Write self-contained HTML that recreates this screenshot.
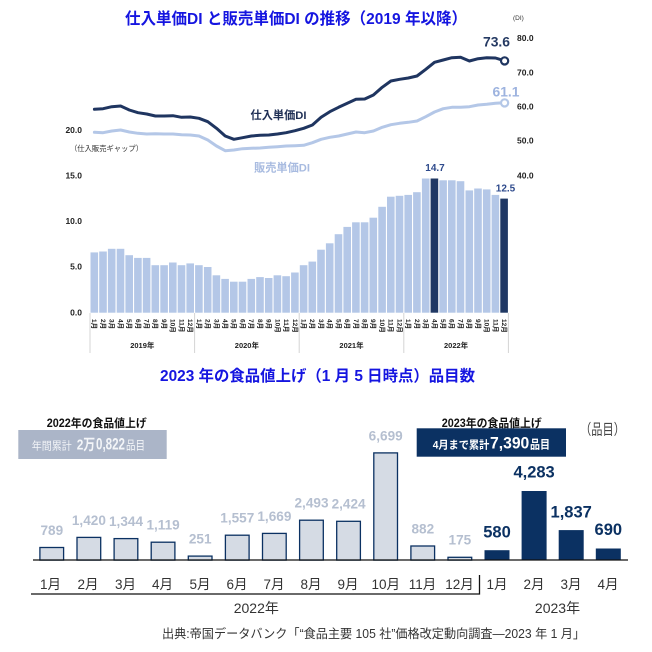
<!DOCTYPE html>
<html><head><meta charset="utf-8"><style>
html,body{margin:0;padding:0;background:#fff;}
svg{display:block;}
text{font-family:"Liberation Sans","Noto Sans CJK JP",sans-serif;}
</style></head><body>
<svg width="652" height="652" viewBox="0 0 652 652" xmlns="http://www.w3.org/2000/svg">
<!-- Title 1 -->
<text x="125" y="24" font-size="16" font-weight="bold" fill="#1515e0" textLength="342" lengthAdjust="spacingAndGlyphs">仕入単価DI と販売単価DI の推移（2019 年以降）</text>
<text x="513" y="20" font-size="6.5" fill="#333">(DI)</text>

<!-- right axis -->
<g font-size="8.5" font-weight="bold" fill="#222">
<text x="517" y="41">80.0</text>
<text x="517" y="75.7">70.0</text>
<text x="517" y="109.7">60.0</text>
<text x="517" y="143.7">50.0</text>
<text x="517" y="178.7">40.0</text>
</g>
<!-- left axis -->
<g font-size="8.5" font-weight="bold" fill="#222" text-anchor="end">
<text x="82" y="133">20.0</text>
<text x="82" y="178.7">15.0</text>
<text x="82" y="224">10.0</text>
<text x="82" y="269.7">5.0</text>
<text x="82" y="315.7">0.0</text>
</g>
<text x="70" y="151" font-size="7.5" fill="#333" textLength="73" lengthAdjust="spacingAndGlyphs">（仕入販売ギャップ）</text>

<!-- bars -->
<g fill="#b4c7e7">
<rect x="90.5" y="252.4" width="7.6" height="60.3"/>
<rect x="99.2" y="251.5" width="7.6" height="61.2"/>
<rect x="107.9" y="248.8" width="7.6" height="63.9"/>
<rect x="116.7" y="248.8" width="7.6" height="63.9"/>
<rect x="125.4" y="255.2" width="7.6" height="57.5"/>
<rect x="134.1" y="257.9" width="7.6" height="54.8"/>
<rect x="142.8" y="257.9" width="7.6" height="54.8"/>
<rect x="151.5" y="265.2" width="7.6" height="47.5"/>
<rect x="160.3" y="265.2" width="7.6" height="47.5"/>
<rect x="169.0" y="262.5" width="7.6" height="50.2"/>
<rect x="177.7" y="265.2" width="7.6" height="47.5"/>
<rect x="186.4" y="263.4" width="7.6" height="49.3"/>
<rect x="195.1" y="265.2" width="7.6" height="47.5"/>
<rect x="203.9" y="267.0" width="7.6" height="45.7"/>
<rect x="212.6" y="275.3" width="7.6" height="37.4"/>
<rect x="221.3" y="278.9" width="7.6" height="33.8"/>
<rect x="230.0" y="281.7" width="7.6" height="31.0"/>
<rect x="238.7" y="281.7" width="7.6" height="31.0"/>
<rect x="247.5" y="278.9" width="7.6" height="33.8"/>
<rect x="256.2" y="277.1" width="7.6" height="35.6"/>
<rect x="264.9" y="278.0" width="7.6" height="34.7"/>
<rect x="273.6" y="275.3" width="7.6" height="37.4"/>
<rect x="282.3" y="276.2" width="7.6" height="36.5"/>
<rect x="291.1" y="272.5" width="7.6" height="40.2"/>
<rect x="299.8" y="265.2" width="7.6" height="47.5"/>
<rect x="308.5" y="261.6" width="7.6" height="51.1"/>
<rect x="317.2" y="249.7" width="7.6" height="63.0"/>
<rect x="325.9" y="243.3" width="7.6" height="69.4"/>
<rect x="334.7" y="234.2" width="7.6" height="78.5"/>
<rect x="343.4" y="226.9" width="7.6" height="85.8"/>
<rect x="352.1" y="222.3" width="7.6" height="90.4"/>
<rect x="360.8" y="222.3" width="7.6" height="90.4"/>
<rect x="369.5" y="217.7" width="7.6" height="95.0"/>
<rect x="378.3" y="206.8" width="7.6" height="105.9"/>
<rect x="387.0" y="196.7" width="7.6" height="116.0"/>
<rect x="395.7" y="195.8" width="7.6" height="116.9"/>
<rect x="404.4" y="194.9" width="7.6" height="117.8"/>
<rect x="413.1" y="192.2" width="7.6" height="120.5"/>
<rect x="421.9" y="178.5" width="7.6" height="134.2"/>
<rect x="439.3" y="180.3" width="7.6" height="132.4"/>
<rect x="448.0" y="180.3" width="7.6" height="132.4"/>
<rect x="456.7" y="181.2" width="7.6" height="131.5"/>
<rect x="465.5" y="190.4" width="7.6" height="122.3"/>
<rect x="474.2" y="188.5" width="7.6" height="124.2"/>
<rect x="482.9" y="189.4" width="7.6" height="123.3"/>
<rect x="491.6" y="194.9" width="7.6" height="117.8"/>
</g>
<g fill="#203864">
<rect x="430.6" y="178.5" width="7.6" height="134.2"/>
<rect x="500.3" y="198.6" width="7.6" height="114.1"/>
</g>
<g font-size="10" font-weight="bold" fill="#2e4a8c" text-anchor="middle">
<text x="435" y="171">14.7</text>
<text x="505.5" y="191.5">12.5</text>
</g>

<!-- x axis top chart -->
<g stroke="#d4d4d4" stroke-width="1">
<line x1="90" y1="313" x2="90" y2="353"/>
<line x1="194.6" y1="313" x2="194.6" y2="353"/>
<line x1="299.2" y1="313" x2="299.2" y2="353"/>
<line x1="403.8" y1="313" x2="403.8" y2="353"/>
<line x1="508.4" y1="313" x2="508.4" y2="353"/>
</g>
<g font-size="6.5" font-weight="bold" fill="#222">
<text transform="translate(92.2,319) rotate(90)">1月</text>
<text transform="translate(100.9,319) rotate(90)">2月</text>
<text transform="translate(109.6,319) rotate(90)">3月</text>
<text transform="translate(118.4,319) rotate(90)">4月</text>
<text transform="translate(127.1,319) rotate(90)">5月</text>
<text transform="translate(135.8,319) rotate(90)">6月</text>
<text transform="translate(144.5,319) rotate(90)">7月</text>
<text transform="translate(153.2,319) rotate(90)">8月</text>
<text transform="translate(162.0,319) rotate(90)">9月</text>
<text transform="translate(170.7,319) rotate(90)">10月</text>
<text transform="translate(179.4,319) rotate(90)">11月</text>
<text transform="translate(188.1,319) rotate(90)">12月</text>
<text transform="translate(196.8,319) rotate(90)">1月</text>
<text transform="translate(205.6,319) rotate(90)">2月</text>
<text transform="translate(214.3,319) rotate(90)">3月</text>
<text transform="translate(223.0,319) rotate(90)">4月</text>
<text transform="translate(231.7,319) rotate(90)">5月</text>
<text transform="translate(240.4,319) rotate(90)">6月</text>
<text transform="translate(249.2,319) rotate(90)">7月</text>
<text transform="translate(257.9,319) rotate(90)">8月</text>
<text transform="translate(266.6,319) rotate(90)">9月</text>
<text transform="translate(275.3,319) rotate(90)">10月</text>
<text transform="translate(284.0,319) rotate(90)">11月</text>
<text transform="translate(292.8,319) rotate(90)">12月</text>
<text transform="translate(301.5,319) rotate(90)">1月</text>
<text transform="translate(310.2,319) rotate(90)">2月</text>
<text transform="translate(318.9,319) rotate(90)">3月</text>
<text transform="translate(327.6,319) rotate(90)">4月</text>
<text transform="translate(336.4,319) rotate(90)">5月</text>
<text transform="translate(345.1,319) rotate(90)">6月</text>
<text transform="translate(353.8,319) rotate(90)">7月</text>
<text transform="translate(362.5,319) rotate(90)">8月</text>
<text transform="translate(371.2,319) rotate(90)">9月</text>
<text transform="translate(380.0,319) rotate(90)">10月</text>
<text transform="translate(388.7,319) rotate(90)">11月</text>
<text transform="translate(397.4,319) rotate(90)">12月</text>
<text transform="translate(406.1,319) rotate(90)">1月</text>
<text transform="translate(414.8,319) rotate(90)">2月</text>
<text transform="translate(423.6,319) rotate(90)">3月</text>
<text transform="translate(432.3,319) rotate(90)">4月</text>
<text transform="translate(441.0,319) rotate(90)">5月</text>
<text transform="translate(449.7,319) rotate(90)">6月</text>
<text transform="translate(458.4,319) rotate(90)">7月</text>
<text transform="translate(467.2,319) rotate(90)">8月</text>
<text transform="translate(475.9,319) rotate(90)">9月</text>
<text transform="translate(484.6,319) rotate(90)">10月</text>
<text transform="translate(493.3,319) rotate(90)">11月</text>
<text transform="translate(502.0,319) rotate(90)">12月</text>
</g>
<g font-size="7.5" font-weight="bold" fill="#222" text-anchor="middle">
<text x="142.3" y="348">2019年</text>
<text x="246.9" y="348">2020年</text>
<text x="351.5" y="348">2021年</text>
<text x="456.1" y="348">2022年</text>
</g>

<!-- lines -->
<polyline fill="none" stroke="#b4c7e7" stroke-width="3" stroke-linejoin="round" stroke-linecap="round" points="94.4,132.3 103.1,132.7 111.8,131.0 120.6,130.0 129.3,132.0 138.0,133.3 146.7,134.0 155.4,133.7 164.2,134.0 172.9,134.0 181.6,134.7 190.3,135.0 199.0,136.0 207.8,140.0 216.5,146.0 225.2,150.7 233.9,150.0 242.6,148.7 251.4,148.3 260.1,148.0 268.8,147.3 277.5,146.7 286.2,146.0 295.0,145.7 303.7,145.3 312.4,142.7 321.1,139.3 329.8,137.3 338.6,136.0 347.3,134.0 356.0,132.0 364.7,132.7 373.4,131.0 382.2,127.3 390.9,124.7 399.6,123.3 408.3,122.3 417.0,121.0 425.8,116.7 434.5,112.0 443.2,108.7 451.9,107.3 460.6,107.3 469.4,106.7 478.1,105.0 486.8,104.3 495.5,103.3 504.2,102.7"/>
<polyline fill="none" stroke="#1f3560" stroke-width="3" stroke-linejoin="round" stroke-linecap="round" points="94.4,109.3 103.1,108.7 111.8,106.7 120.6,106.0 129.3,110.0 138.0,112.7 146.7,114.0 155.4,116.0 164.2,116.0 172.9,115.7 181.6,117.3 190.3,117.0 199.0,118.3 207.8,121.7 216.5,128.3 225.2,136.0 233.9,139.3 242.6,137.7 251.4,136.0 260.1,135.3 268.8,135.0 277.5,134.0 286.2,132.7 295.0,130.7 303.7,128.3 312.4,125.0 321.1,117.3 329.8,111.7 338.6,107.3 347.3,103.3 356.0,99.3 364.7,99.0 373.4,95.0 382.2,87.3 390.9,81.0 399.6,79.3 408.3,78.0 417.0,76.0 425.8,69.3 434.5,62.3 443.2,60.0 451.9,57.7 460.6,57.3 469.4,61.0 478.1,58.7 486.8,57.7 495.5,58.0 504.2,60.7"/>
<circle cx="504.6" cy="102.9" r="3.6" fill="#fff" stroke="#b4c7e7" stroke-width="2.2"/>
<circle cx="504.6" cy="60.9" r="3.6" fill="#fff" stroke="#1f3560" stroke-width="2.2"/>
<text x="483" y="46.5" font-size="13.5" font-weight="bold" fill="#253a63" textLength="27" lengthAdjust="spacingAndGlyphs">73.6</text>
<text x="492.5" y="96.5" font-size="13.5" font-weight="bold" fill="#9db3df" textLength="27" lengthAdjust="spacingAndGlyphs">61.1</text>
<text x="250.5" y="119" font-size="11.2" font-weight="bold" fill="#1f2f55" textLength="56" lengthAdjust="spacingAndGlyphs">仕入単価DI</text>
<text x="254" y="171.5" font-size="11.2" font-weight="bold" fill="#a8bbe0" textLength="56" lengthAdjust="spacingAndGlyphs">販売単価DI</text>

<!-- Title 2 -->
<text x="160" y="381" font-size="15.5" font-weight="bold" fill="#1515e0" textLength="315" lengthAdjust="spacingAndGlyphs">2023 年の食品値上げ（1 月 5 日時点）品目数</text>

<!-- Box 1 -->
<text x="96.7" y="426.8" font-size="11.5" font-weight="bold" fill="#111" text-anchor="middle" textLength="100" lengthAdjust="spacingAndGlyphs">2022年の食品値上げ</text>
<rect x="18.3" y="430" width="148.4" height="29" fill="#abb5c8"/>
<text y="449.5" fill="#f3f5f8" font-weight="bold">
<tspan x="31.7" font-size="11" font-weight="normal" textLength="40" lengthAdjust="spacingAndGlyphs">年間累計</tspan>
<tspan x="76.7" font-size="15" textLength="18.5" lengthAdjust="spacingAndGlyphs">2万</tspan>
<tspan x="96" font-size="17" textLength="29" lengthAdjust="spacingAndGlyphs">0,822</tspan>
<tspan x="126" font-size="12" font-weight="normal" textLength="19" lengthAdjust="spacingAndGlyphs">品目</tspan>
</text>

<!-- Box 2 -->
<text x="491.7" y="426.8" font-size="11.5" font-weight="bold" fill="#111" text-anchor="middle" textLength="100" lengthAdjust="spacingAndGlyphs">2023年の食品値上げ</text>
<rect x="416.7" y="428.3" width="149.3" height="28.4" fill="#0b3162"/>
<text y="448.5" fill="#ffffff" font-weight="bold">
<tspan x="432.7" font-size="11" textLength="56.6" lengthAdjust="spacingAndGlyphs">4月まで累計</tspan>
<tspan x="490" font-size="17" textLength="39.3" lengthAdjust="spacingAndGlyphs">7,390</tspan>
<tspan x="530" font-size="12" textLength="20" lengthAdjust="spacingAndGlyphs">品目</tspan>
</text>
<text x="580" y="434.5" font-size="15" fill="#444" textLength="45" lengthAdjust="spacingAndGlyphs">（品目）</text>

<!-- bottom bars -->
<g fill="#d5dbe4" stroke="#0b3162" stroke-width="1.3">
<rect x="39.9" y="547.5" width="23.7" height="12.6"/>
<rect x="77.0" y="537.4" width="23.7" height="22.7"/>
<rect x="114.1" y="538.6" width="23.7" height="21.5"/>
<rect x="151.2" y="542.2" width="23.7" height="17.9"/>
<rect x="188.3" y="556.1" width="23.7" height="4.0"/>
<rect x="225.4" y="535.2" width="23.7" height="24.9"/>
<rect x="262.5" y="533.4" width="23.7" height="26.7"/>
<rect x="299.6" y="520.2" width="23.7" height="39.9"/>
<rect x="336.7" y="521.3" width="23.7" height="38.8"/>
<rect x="373.8" y="452.9" width="23.7" height="107.2"/>
<rect x="410.9" y="546.0" width="23.7" height="14.1"/>
<rect x="448.0" y="557.3" width="23.7" height="2.8"/>
</g>
<g fill="#0b3162">
<rect x="484.5" y="550.2" width="25" height="9.3"/>
<rect x="521.6" y="491.0" width="25" height="68.5"/>
<rect x="558.7" y="530.1" width="25" height="29.4"/>
<rect x="595.8" y="548.5" width="25" height="11.0"/>
</g>
<line x1="33" y1="560" x2="628" y2="560" stroke="#111" stroke-width="1.2"/>

<g font-size="13.6" font-weight="bold" fill="#b5bfd0" text-anchor="middle">
<text x="51.8" y="535">789</text>
<text x="88.9" y="524.8">1,420</text>
<text x="126" y="526">1,344</text>
<text x="163.1" y="529.6">1,119</text>
<text x="200.2" y="543.5">251</text>
<text x="237.3" y="522.6">1,557</text>
<text x="274.4" y="520.8">1,669</text>
<text x="311.5" y="507.6">2,493</text>
<text x="348.6" y="508.7">2,424</text>
<text x="385.7" y="440.3">6,699</text>
<text x="422.8" y="533.4">882</text>
<text x="459.9" y="544.7">175</text>
</g>
<g font-size="16.5" font-weight="bold" fill="#0b3162" text-anchor="middle">
<text x="497" y="537.5">580</text>
<text x="534.1" y="477.3">4,283</text>
<text x="571.2" y="517.3">1,837</text>
<text x="608.3" y="535">690</text>
</g>

<!-- bottom month labels -->
<g font-size="13.5" fill="#333" text-anchor="middle">
<text x="50.5" y="589">1月</text>
<text x="88" y="589">2月</text>
<text x="125.5" y="589">3月</text>
<text x="162.5" y="589">4月</text>
<text x="200" y="589">5月</text>
<text x="237" y="589">6月</text>
<text x="274" y="589">7月</text>
<text x="311" y="589">8月</text>
<text x="348" y="589">9月</text>
<text x="385.8" y="589">10月</text>
<text x="422.5" y="589">11月</text>
<text x="459.5" y="589">12月</text>
<text x="497" y="589">1月</text>
<text x="534" y="589">2月</text>
<text x="571" y="589">3月</text>
<text x="608" y="589">4月</text>
</g>
<polyline points="31,594 479.5,594 479.5,575" fill="none" stroke="#111" stroke-width="1.3"/>
<g font-size="14" fill="#333" text-anchor="middle">
<text x="256.3" y="613">2022年</text>
<text x="557.5" y="613">2023年</text>
</g>
<text x="162" y="638" font-size="12.5" fill="#333" textLength="423" lengthAdjust="spacingAndGlyphs">出典:帝国データバンク「“食品主要 105 社”価格改定動向調査―2023 年 1 月」</text>
</svg>
</body></html>
